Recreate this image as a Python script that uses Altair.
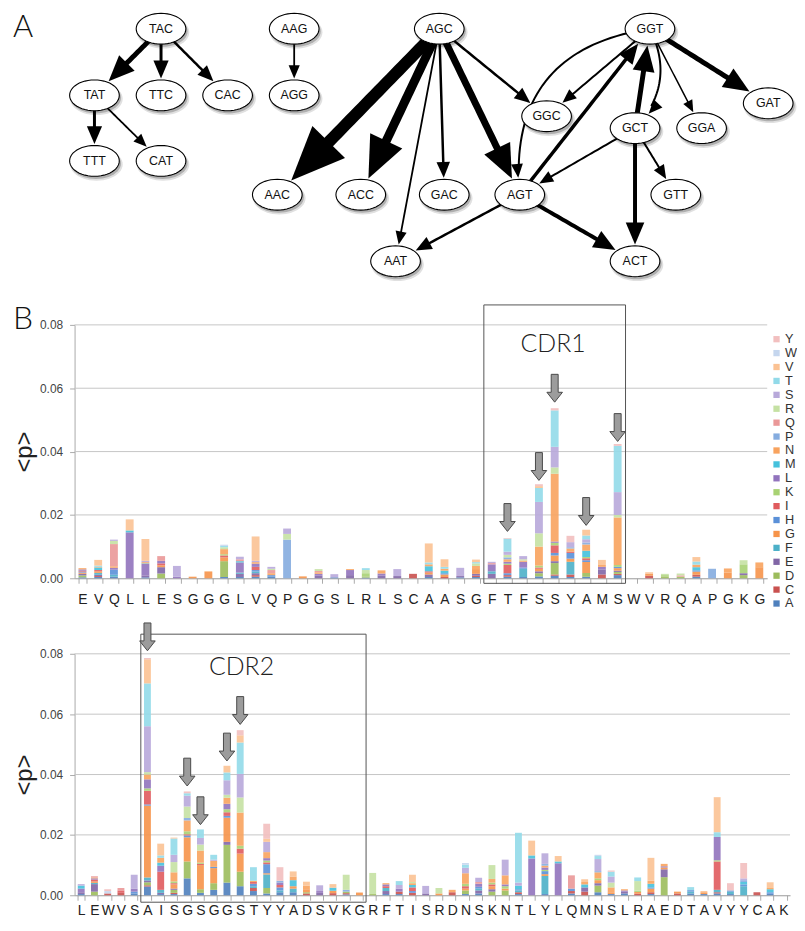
import json
import math
import numpy as np
import pandas as pd
import altair as alt

# ---------------- data ----------------
AA = ["A", "C", "D", "E", "F", "G", "H", "I", "K", "L",
      "M", "N", "P", "Q", "R", "S", "T", "V", "W", "Y"]
AA_COLORS = ["#4f80bd", "#c9514f", "#9cbc5c", "#8166a6", "#4cb0c8", "#f6944a",
             "#5a90d8", "#e05b5e", "#a8d273", "#9173bd", "#45c1dc", "#f8a35e",
             "#85acdf", "#ea9898", "#c5e1a3", "#b8a9da", "#92dae9", "#fbc293",
             "#c5d6ee", "#f2bfbf"]

# panel B, top: residues and per-residue composition (amino acid + value in 1e-4)
TOP_SEQ = list("EVQLLESGGGLVQPGGSLRLSCAASGFTFSSYAMSWVRQAPGKG")
TOP_COMP = [
    "A3 D6 E5 G4 H3 I3 L4 N4",
    "A4 C3 E4 F6 G5 I4 M8 N2 T4 V18",
    "A5 F6 H16 L6 N5 Q70 R10 S4",
    "L145 M6 V35",
    "A3 E6 L36 M2 N4 S4 V69",
    "D15 E20 G6 I6 L8 Q15",
    "L5 S34",
    "G5",
    "G20 N2",
    "A4 D50 G12 I6 K4 N16 R6 T4 W4",
    "A4 E10 F4 L32 M4 Q6 S8",
    "A5 C5 E6 F5 H5 I10 L10 N5 S4 V77",
    "A5 H5 N6 Q10 R4 S6",
    "P122 R18 S17",
    "G6",
    "E8 L6 N5 Q4 R6",
    "A3 S10",
    "E10 L16 N3",
    "A2 D4 K10 R10 T6",
    "E8 L7 N10",
    "E7 S22",
    "C14",
    "A4 E8 G6 I4 M16 N6 T6 V60",
    "C4 G8 H4 M8 N6 T6 V24",
    "A3 E4 S26",
    "A4 C4 E6 G15 N10 R8 T4 V8",
    "E14 F8 L22 Q4 S4",
    "A5 C5 H6 I26 K4 L6 N8 P6 R8 S10 T41 Y2",
    "A4 F26 H4 L18 N4 R4 S10",
    "A6 D10 E6 G8 I4 K6 N60 R42 S99 T44 V6 Y6",
    "A8 C4 D36 E6 G18 H8 I24 K8 L4 N214 R20 S65 T115 Y7",
    "A4 C8 F40 G10 H18 I4 N10 P4 S16 Y20",
    "A5 D12 G34 H6 I6 K4 M20 N20 P6 S10 T12 V18",
    "C12 E16 L8 N6 V16",
    "A10 C4 D6 E4 G8 H4 K6 N150 R8 S72 T146 Y6",
    "",
    "C8 G6 V5",
    "D6 K4 R4",
    "D5 Q4 R6",
    "A5 C6 G10 H4 M10 N8 T10 V14",
    "P30",
    "G18 N13",
    "D10 E6 K28 R13",
    "G35 N15",
]

# panel B, bottom
BOT_SEQ = list("LEWVSAISGSGGSTYYADSVKGRFTISRDNSKNTLYLQMNSLRAEDTAVYYCAK")
BOT_COMP = [
    "A4 E6 L12 M10 S5",
    "D12 E25 F4 G5 I6 L4 N3 Q4",
    "C6 W8 Y6",
    "C8 I8 Q8",
    "A6 H6 L10 S46",
    "A29 C4 D10 E6 F10 G238 H4 I45 K8 L30 N16 R8 S152 T142 V80 Y4",
    "A4 E4 F10 I60 L20 M10 N16 T8 V39",
    "A4 C4 D10 E4 G14 I4 K6 N30 R34 S24 T54 V3",
    "A56 D56 G80 H6 I4 K10 N36 P8 R38 S36 T8 Y6",
    "A8 D12 G80 I4 K4 N40 R20 S22 T28",
    "A18 D22 G50 H4 N20 S4 T16",
    "A42 D125 E10 G80 H6 I12 K10 L18 N20 R10 S48 T26 V22",
    "A30 D48 G60 I16 K10 N110 R50 S78 T104 V24 Y17",
    "A14 C10 F6 H8 I6 N4 T45",
    "A6 D18 F45 G4 H30 I6 K6 L8 N20 S34 V10 Y50",
    "A10 F6 H10 I8 L8 P6 Y45",
    "A10 F12 G8 M20 N12 V17",
    "C6 D4 G10 N12 V13",
    "E8 L6 S19",
    "C7 G8 M10 V12",
    "A3 C4 D5 P6 R50",
    "G9",
    "D4 R70",
    "A4 E10 F10 I6 L6 N4",
    "A4 C8 L10 S12 T13",
    "C8 H6 I12 M8 N6 R4 V24",
    "E6 S25",
    "G6 R18",
    "C10 N8",
    "A4 D12 G6 I8 K8 N35 S18 T10 W6",
    "A6 E10 F6 H6 L10 Q6 S14",
    "D12 E8 G10 I6 K6 N12 R46",
    "D16 G6 K8 L6 N30 S52",
    "A4 C6 F6 H4 M12 S10 T165",
    "L122 M10 V49",
    "A4 F60 G6 H10 K4 L8 N6 P6 S35",
    "L106 M6 V18",
    "A6 C8 H8 Q44",
    "C12 E14 M10 N8 V9",
    "A10 D22 E8 G10 K6 N20 P4 S40 T10 W4",
    "A4 G6 N16 R16 S20 T16 Y4",
    "A6 E6 L4 N4",
    "C5 G6 K4 R32 T12",
    "A4 C6 G12 H4 M12 N10 V76",
    "D60 E26 G6 L4 N8",
    "C6 G6",
    "A6 F6 H5 T10",
    "A4 G5 N4",
    "A6 C4 F8 I94 K4 L77 T16 V116",
    "A4 F8 H4 Y24",
    "F30 H6 M8 P6 S6 Y51",
    "C10",
    "A5 H5 M10 N4 V19",
    "",
]

Y_TICKS = [0, 0.02, 0.04, 0.06, 0.08]

TOP_ARROW_POS = [27, 29, 30, 32, 34]
TOP_ARROW_TIP = [0.0148, 0.0309, 0.0556, 0.0167, 0.0432]
BOT_ARROW_POS = [5, 8, 9, 11, 12]
BOT_ARROW_TIP = [0.0810, 0.0362, 0.0234, 0.0445, 0.0566]

CDR1_BOX = [26, 35, -0.0016, 0.0863]
CDR2_BOX = [5, 22, -0.0023, 0.0865]
CDR1_LABEL = ["CDR1", 30.4, 0.0741]
CDR2_LABEL = ["CDR2", 12.6, 0.0755]
B_LABEL = ["B", -3.91, 0.0865]

# panel A: codon graph
NODE_NAMES = ["TAC", "AAG", "AGC", "GGT", "TAT", "TTC", "CAC", "AGG", "GGC", "GAT", "GCT",
              "GGA", "TTT", "CAT", "AAC", "ACC", "GAC", "AGT", "GTT", "AAT", "ACT"]
NODE_X = [152, 286, 432, 644, 85, 152, 219, 286, 540, 763, 629,
          696, 85, 152, 269, 353, 437, 513, 670, 388, 629]
NODE_Y = [21, 21, 21, 21, 88, 88, 88, 88, 109, 96, 121,
          121, 154, 154, 188, 188, 188, 188, 188, 255, 255]
EDGE_SRC = ["TAC", "TAC", "TAC", "TAT", "TAT", "AAG", "AGC", "AGC", "AGC", "AGC", "AGC", "AGC",
            "GGT", "GGT", "AGT", "GCT", "GGT", "GGT", "GGT", "GCT", "GCT", "GCT", "AGT", "AGT"]
EDGE_DST = ["TAT", "TTC", "CAC", "TTT", "CAT", "AGG", "AAC", "ACC", "AAT", "GAC", "AGT", "GGC",
            "GGC", "AGT", "GGT", "GGT", "GCT", "GGA", "GAT", "AGT", "GTT", "ACT", "AAT", "ACT"]
EDGE_W = [5, 3, 2.5, 3, 1.8, 1.8, 12, 9, 1.8, 2.5, 7, 2.5,
          2, 2, 3.5, 5, 2, 1.5, 5, 2, 2, 4, 2.5, 4]
EDGE_BEND = [0, 0, 0, 0, 0, 0, 0, 0, 0, 0, 0, 0,
             0, 100, 0, 0, -35, 0, 0, 0, 0, 0, 0, 0]
A_LABEL = ["A", 3, 5]

# ---------------- shapes ----------------
_ts = np.linspace(0, 2 * np.pi, 48, endpoint=False)
ELLIPSE = "M" + "L".join(f"{math.cos(t):.3f},{0.62 * math.sin(t):.3f}" for t in _ts) + "Z"
HEAD = "M0,-1L0.85,1L-0.85,1Z"
DOWN_ARROW = "M-0.25,-1L0.25,-1L0.25,0.29L0.56,0.29L0,1L-0.56,0.29L-0.25,0.29Z"

FONT = "Liberation Sans"

# ---------------- panel A ----------------
pos = {n: (x, y) for n, x, y in zip(NODE_NAMES, NODE_X, NODE_Y)}
RX, RY, GAP = 25.5, 16.0, 1.0


def rim(ux, uy):
    return 1.0 / math.sqrt((ux / RX) ** 2 + (uy / RY) ** 2)


edge_rows, head_rows = [], []
for e, (s, d, w, bend) in enumerate(zip(EDGE_SRC, EDGE_DST, EDGE_W, EDGE_BEND)):
    p0 = np.array(pos[s], float)
    p2 = np.array(pos[d], float)
    L = 6 + 4 * w
    dv = p2 - p0
    c = (p0 + p2) / 2
    if bend:
        c = c + bend * np.array([-dv[1], dv[0]]) / np.linalg.norm(dv)
    t = np.linspace(0, 1, 41)[:, None]
    pts = (1 - t) ** 2 * p0 + 2 * (1 - t) * t * c + t ** 2 * p2
    u = (p2 - c) / np.linalg.norm(p2 - c)
    r = rim(u[0], u[1]) + GAP
    tip = p2 - u * r
    cut = r + L * 0.6
    keep = [p for p in pts if np.linalg.norm(p - p2) > cut]
    keep.append(tip - u * L * 0.6)
    for k, p in enumerate(keep):
        edge_rows.append({"eid": e, "k": k, "x": p[0], "y": p[1], "w": w})
    hc = tip - u * L / 2
    ang = math.degrees(math.atan2(u[0], -u[1])) % 360
    head_rows.append({"x": hc[0], "y": hc[1], "ang": ang, "sz": L * L})

edges_df = pd.DataFrame(edge_rows)
heads_df = pd.DataFrame(head_rows)
nodes_df = pd.DataFrame({"name": NODE_NAMES, "x": NODE_X, "y": NODE_Y})

NET_W, NET_H = 716, 243
nxs = alt.Scale(domain=[65, 65 + NET_W], nice=False, zero=False)
nys = alt.Scale(domain=[0, NET_H], nice=False, zero=False, reverse=True)


def nx(f="x"):
    return alt.X(f"{f}:Q", scale=nxs, axis=None)


def ny(f="y"):
    return alt.Y(f"{f}:Q", scale=nys, axis=None)


net_edges = alt.Chart(edges_df).mark_line(color="black", strokeCap="butt").encode(
    x=nx(), y=ny(), detail="eid:N", order="k:Q",
    strokeWidth=alt.StrokeWidth("w:Q", scale=None))
net_heads = alt.Chart(heads_df).mark_point(shape=HEAD, filled=True, color="black", opacity=1).encode(
    x=nx(), y=ny(), angle=alt.Angle("ang:Q", scale=None), size=alt.Size("sz:Q", scale=None))
shadow1 = alt.Chart(nodes_df).mark_point(shape=ELLIPSE, filled=True, color="#000", opacity=0.12,
                                         size=2800, xOffset=2, yOffset=3.5).encode(x=nx(), y=ny())
shadow2 = alt.Chart(nodes_df).mark_point(shape=ELLIPSE, filled=True, color="#000", opacity=0.22,
                                         size=2550, xOffset=1.5, yOffset=2.5).encode(x=nx(), y=ny())
ellipses = alt.Chart(nodes_df).mark_point(shape=ELLIPSE, filled=True, fill="white", stroke="black",
                                          strokeWidth=1.1, opacity=1, size=2500).encode(x=nx(), y=ny())
node_text = alt.Chart(nodes_df).mark_text(font=FONT, fontSize=12.5, color="#111").encode(
    x=nx(), y=ny(), text="name:N")
a_text = alt.Chart(pd.DataFrame({"t": [A_LABEL[0]], "x": [A_LABEL[1]], "y": [A_LABEL[2]]})).mark_text(
    font="Lato", fontWeight=300, fontSize=31, align="left", baseline="top", color="#111").encode(
    x=nx(), y=ny(), text="t:N")

net = alt.layer(net_edges, net_heads, shadow1, shadow2, ellipses, node_text, a_text).properties(
    width=NET_W, height=NET_H)

# ---------------- panel B ----------------
LEGEND = alt.Legend(title=None, orient="none", legendX=700, legendY=327, symbolType="square",
                    symbolSize=40, symbolStrokeWidth=0, symbolOpacity=1, labelFont=FONT,
                    labelFontSize=12.8, labelColor="#333", labelOffset=2, rowPadding=0, padding=0)

Y_AXIS = alt.Axis(title="<p>", values=Y_TICKS, format=".2f", grid=False,
                  labelFont=FONT, labelFontSize=12, labelColor="#444", labelPadding=7,
                  tickSize=5, tickColor="#aaa", domainColor="#aaa",
                  titleFont=FONT, titleFontSize=24, titleFontWeight="normal",
                  titleColor="#222", titlePadding=3)


def comp_table(seq, comps):
    rows = []
    for i, c in enumerate(comps):
        for tok in c.split():
            rows.append({"pos": i, "aa": tok[0], "aa_i": AA.index(tok[0]), "v": int(tok[1:]) * 1e-4})
    return pd.DataFrame(rows)


def bar_panel(seq, comps, width, height, pad, label_pad, arrow_pos, arrow_tip, box, cdr_label,
              extra_label=None):
    n = len(seq)
    df = comp_table(seq, comps)
    ys = alt.Scale(domain=[0, 0.08], nice=False, zero=False)
    xq = alt.Scale(domain=[0, n], nice=False, zero=False)
    px_per_unit = height / 0.08

    def yenc(f):
        return alt.Y(f"{f}:Q", scale=ys, axis=Y_AXIS, title="<p>")

    grid_df = pd.DataFrame({"y": Y_TICKS[1:], "x": 0, "x2": n})
    grid = alt.Chart(grid_df).mark_rule(color="#c6c6c6", strokeWidth=1).encode(
        x=alt.X("x:Q", scale=xq, axis=None), x2="x2:Q", y=yenc("y"))
    bars = alt.Chart(df).mark_bar(opacity=0.9).encode(
        x=alt.X("pos:O", scale=alt.Scale(domain=list(range(n)), paddingInner=pad, paddingOuter=pad / 2),
                axis=alt.Axis(title=None, labelExpr=f"{json.dumps(seq)}[datum.value]", labelAngle=0,
                              labelFont=FONT, labelFontSize=14, labelColor="#222", labelPadding=label_pad,
                              tickBand="extent", tickSize=5, tickColor="#aaa", domainColor="#999",
                              grid=False)),
        y=alt.Y("v:Q", stack="zero", scale=ys, axis=Y_AXIS, title="<p>"),
        color=alt.Color("aa:N", scale=alt.Scale(domain=AA[::-1], range=AA_COLORS[::-1]), legend=LEGEND),
        order=alt.Order("aa_i:Q", sort="ascending"),
    )
    box_df = pd.DataFrame({"x": [box[0]], "x2": [box[1]], "y": [box[2]], "y2": [box[3]]})
    box_l = alt.Chart(box_df).mark_rect(fill="white", fillOpacity=0, stroke="#555", strokeWidth=1).encode(
        x=alt.X("x:Q", scale=xq, axis=None), x2="x2:Q", y=yenc("y"), y2="y2:Q")
    arr_df = pd.DataFrame({"x": [p + 0.5 for p in arrow_pos],
                           "y": [t + 14.0 / px_per_unit for t in arrow_tip]})
    arrows = alt.Chart(arr_df).mark_point(shape=DOWN_ARROW, filled=True, fill="#9c9c9c", stroke="#4a4a4a",
                                          strokeWidth=1, opacity=1, size=784).encode(
        x=alt.X("x:Q", scale=xq, axis=None), y=yenc("y"))
    lab_df = pd.DataFrame({"t": [cdr_label[0]], "x": [cdr_label[1]], "y": [cdr_label[2]]})
    lab = alt.Chart(lab_df).mark_text(font="Lato", fontWeight=300, fontSize=25, color="#222").encode(
        x=alt.X("x:Q", scale=xq, axis=None), y=yenc("y"), text="t:N")
    layers = [grid, bars, box_l, arrows, lab]
    if extra_label is not None:
        ex_df = pd.DataFrame({"t": [extra_label[0]], "x": [extra_label[1]], "y": [extra_label[2]]})
        layers.append(alt.Chart(ex_df).mark_text(font="Lato", fontWeight=300, fontSize=32, align="left",
                                                 baseline="top", color="#111").encode(
            x=alt.X("x:Q", scale=xq, axis=None), y=yenc("y"), text="t:N"))
    return alt.layer(*layers).resolve_scale(x="independent").properties(width=width, height=height)


top = bar_panel(TOP_SEQ, TOP_COMP, 697, 255, 0.5, 9, TOP_ARROW_POS, TOP_ARROW_TIP, CDR1_BOX, CDR1_LABEL,
                B_LABEL)
bot = bar_panel(BOT_SEQ, BOT_COMP, 720, 243, 0.48, 3, BOT_ARROW_POS, BOT_ARROW_TIP, CDR2_BOX, CDR2_LABEL)

chart = alt.vconcat(net, top, bot, spacing=76, bounds="flush").resolve_scale(
    color="shared").resolve_legend(color="shared").configure_view(strokeWidth=0).properties(
    padding={"left": 4, "top": -6, "right": 0, "bottom": 0})

chart.save("out.html", embed_options={"renderer": "svg", "actions": False})
